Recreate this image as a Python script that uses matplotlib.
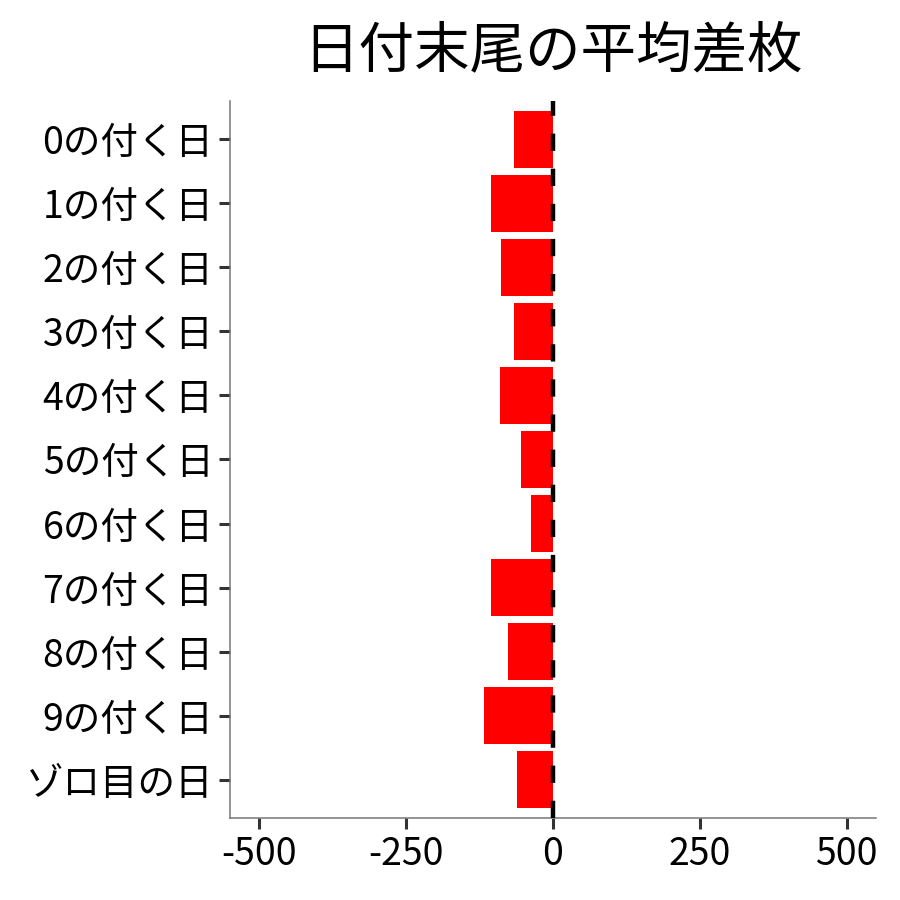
import matplotlib
matplotlib.use('Agg')
import matplotlib.pyplot as plt

plt.rcParams['font.family'] = ['Noto Sans CJK JP', 'DejaVu Sans']

# 日付末尾ごとの平均差枚
categories = ['0の付く日', '1の付く日', '2の付く日', '3の付く日', '4の付く日',
              '5の付く日', '6の付く日', '7の付く日', '8の付く日', '9の付く日',
              'ゾロ目の日']
avg_diff = [-67, -105, -88, -66, -91, -55, -38, -106, -76, -118, -62]
x_ticks = [-500, -250, 0, 250, 500]

fig = plt.figure(figsize=(9, 9), dpi=100)
ax = fig.add_axes([0.2556, 0.0911, 0.7177, 0.7967])

pos = list(range(len(categories)))
ax.barh(pos, avg_diff, height=0.9, color='#ff0000', zorder=2)
ax.axvline(0, color='black', linewidth=3.2, linestyle=(0, (3.9, 4.0)), zorder=3)

ax.set_yticks(pos)
ax.set_yticklabels(categories, fontsize=27)
ax.set_ylim(len(categories) - 0.4, -0.6)
ax.set_xlim(-550, 550)
ax.set_xticks(x_ticks)
ax.set_xticklabels([str(v) for v in x_ticks], fontsize=27)

ax.tick_params(axis='both', length=8, width=2.2, color='#333333', pad=4, labelcolor='black')
for side in ['top', 'right']:
    ax.spines[side].set_visible(False)
for side in ['left', 'bottom']:
    ax.spines[side].set_color('#777777')
    ax.spines[side].set_linewidth(1.1)

ax.set_title('日付末尾の平均差枚', fontsize=40, pad=24)

fig.savefig('out.png', dpi=100, facecolor='white')
